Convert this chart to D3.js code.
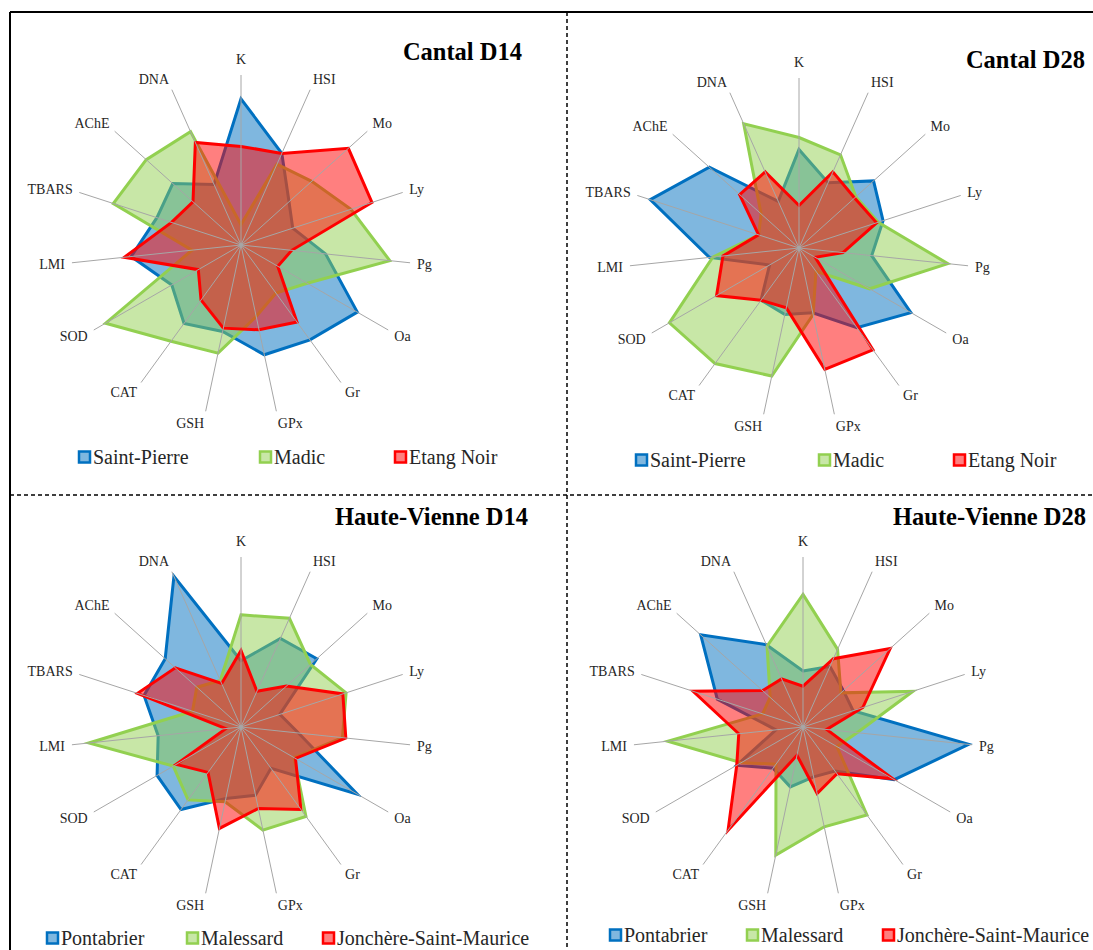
<!DOCTYPE html>
<html>
<head>
<meta charset="utf-8">
<script src="https://cdn.jsdelivr.net/npm/d3@7"></script>
<style>
  html, body { margin: 0; padding: 0; background: #ffffff; }
  svg { display: block; }
</style>
</head>
<body>
<svg id="chart" width="1093" height="950"></svg>
<script>
// Biomarker axes, clockwise from the top
const axes = ["K", "HSI", "Mo", "Ly", "Pg", "Oa", "Gr", "GPx", "GSH", "CAT", "SOD", "LMI", "TBARS", "AChE", "DNA"];

const cantalSites = ["Saint-Pierre", "Madic", "Etang Noir"];
const hauteVienneSites = ["Pontabrier", "Malessard", "Jonchère-Saint-Maurice"];
const panelTitles = ["Cantal D14", "Cantal D28", "Haute-Vienne D14", "Haute-Vienne D28"];

// Scores (0–100 of the axis length), one row per site, columns follow `axes`
const cantalD14 = [
  [86, 59, 38, 32, 50, 79, 69, 66, 52, 57, 47, 65, 52, 54, 39],
  [12, 52, 56, 68, 88, 45, 35, 43, 65, 70, 92, 29, 79, 75, 73],
  [58, 59, 85, 81, 30, 25, 56, 51, 50, 40, 29, 69, 43, 38, 66]
];
const cantalD28 = [
  [58, 42, 59, 52, 43, 76, 58, 39, 40, 38, 20, 53, 92, 71, 30],
  [65, 60, 45, 49, 88, 48, 17, 40, 77, 84, 88, 51, 25, 30, 80],
  [25, 49, 44, 48, 26, 11, 74, 73, 36, 38, 56, 45, 25, 47, 49]
];
const hauteVienneD14 = [
  [39, 57, 60, 24, 34, 79, 30, 41, 43, 60, 57, 49, 60, 60, 97],
  [66, 70, 55, 65, 60, 36, 65, 62, 45, 53, 46, 90, 30, 35, 30],
  [45, 23, 36, 63, 62, 37, 60, 49, 61, 33, 44, 9, 64, 52, 28]
];
const hauteVienneD28 = [
  [33, 39, 32, 31, 98, 62, 32, 30, 36, 30, 45, 16, 53, 81, 53],
  [78, 50, 30, 68, 32, 23, 64, 60, 77, 27, 42, 80, 25, 26, 52],
  [24, 44, 69, 37, 14, 61, 34, 40, 17, 75, 45, 38, 68, 32, 31]
];

// Series colours (stroke / translucent fill)
const seriesStroke = ["#0070C0", "#92D050", "#FF0000"];
const seriesFill = ["rgba(0,112,192,0.5)", "rgba(146,208,80,0.5)", "rgba(255,0,0,0.5)"];

// Panel geometry
const panels = [
  { title: panelTitles[0], sites: cantalSites, values: cantalD14, cx: 241, cy: 245, titleX: 522, titleY: 60, legendY: 457, legendX: [78, 259, 394] },
  { title: panelTitles[1], sites: cantalSites, values: cantalD28, cx: 799, cy: 248, titleX: 1085, titleY: 68, legendY: 460, legendX: [635, 818, 953] },
  { title: panelTitles[2], sites: hauteVienneSites, values: hauteVienneD14, cx: 241, cy: 727, titleX: 528, titleY: 525, legendY: 938, legendX: [46, 186, 322] },
  { title: panelTitles[3], sites: hauteVienneSites, values: hauteVienneD28, cx: 803, cy: 727, titleX: 1086, titleY: 525, legendY: 935, legendX: [609, 746, 882] }
];

const R = 170;
const svg = d3.select("#chart");
const r = d3.scaleLinear().domain([0, 100]).range([0, R]);
const angle = d3.scaleLinear().domain([0, axes.length]).range([0, 2 * Math.PI]);
const radarLine = d3.lineRadial()
  .angle((d, i) => angle(i))
  .radius(d => r(d))
  .curve(d3.curveLinearClosed);

const serif = "'Liberation Serif', 'Times New Roman', serif";
const clamp = v => Math.max(-1, Math.min(1, v));

panels.forEach(p => {
  const g = svg.append("g").attr("transform", `translate(${p.cx},${p.cy})`);

  // series polygons, drawn in legend order
  p.values.forEach((vals, si) => {
    g.append("path")
      .datum(vals)
      .attr("d", radarLine)
      .attr("fill", seriesFill[si])
      .attr("stroke", seriesStroke[si])
      .attr("stroke-width", 3)
      .attr("stroke-linejoin", "miter");
  });

  // spokes
  g.selectAll("line.spoke")
    .data(axes)
    .join("line")
    .attr("class", "spoke")
    .attr("x1", 0).attr("y1", 0)
    .attr("x2", (d, i) => R * Math.sin(angle(i)))
    .attr("y2", (d, i) => -R * Math.cos(angle(i)))
    .attr("stroke", "#A6A6A6")
    .attr("stroke-width", 1);
  g.append("circle").attr("r", 2).attr("fill", "#A6A6A6");

  // axis labels, pushed outward so the box edge sits at the spoke end
  g.selectAll("text.axis")
    .data(axes)
    .join("text")
    .attr("class", "axis")
    .attr("font-family", serif)
    .attr("font-size", 14)
    .attr("fill", "#262626")
    .attr("text-anchor", "middle")
    .attr("dy", "0.35em")
    .text(d => d)
    .each(function (d, i) {
      const w = this.getComputedTextLength();
      const s = Math.sin(angle(i)), c = Math.cos(angle(i));
      const r0 = 177;
      const x = r0 * s + (w / 2) * clamp(5 * s);
      let y = -r0 * c - 7 * 0.7 * c;
      if (c > 0.99) y -= 4;
      d3.select(this).attr("x", x).attr("y", y);
    });

  // title
  svg.append("text")
    .attr("x", p.titleX).attr("y", p.titleY)
    .attr("text-anchor", "end")
    .attr("font-family", serif)
    .attr("font-weight", "bold")
    .attr("font-size", 24.5)
    .attr("fill", "#000")
    .text(p.title);

  // legend
  const lg = svg.append("g");
  p.sites.forEach((name, si) => {
    const x = p.legendX[si];
    lg.append("rect")
      .attr("x", x + 1).attr("y", p.legendY - 5.5)
      .attr("width", 11).attr("height", 11)
      .attr("fill", seriesFill[si])
      .attr("stroke", seriesStroke[si])
      .attr("stroke-width", 2.5);
    lg.append("text")
      .attr("x", x + 15).attr("y", p.legendY)
      .attr("dy", "0.35em")
      .attr("font-family", serif)
      .attr("font-size", 20)
      .attr("fill", "#262626")
      .text(name);
  });
});

// frame and panel separators
svg.append("line").attr("x1", 10).attr("y1", 12).attr("x2", 1093).attr("y2", 12)
  .attr("stroke", "#000").attr("stroke-width", 2);
svg.append("line").attr("x1", 10).attr("y1", 12).attr("x2", 10).attr("y2", 950)
  .attr("stroke", "#000").attr("stroke-width", 2);
svg.append("line").attr("x1", 567).attr("y1", 12).attr("x2", 567).attr("y2", 950)
  .attr("stroke", "#000").attr("stroke-width", 1.5).attr("stroke-dasharray", "4,3");
svg.append("line").attr("x1", 10).attr("y1", 495).attr("x2", 1093).attr("y2", 495)
  .attr("stroke", "#000").attr("stroke-width", 1.5).attr("stroke-dasharray", "4,3");
</script>
</body>
</html>
